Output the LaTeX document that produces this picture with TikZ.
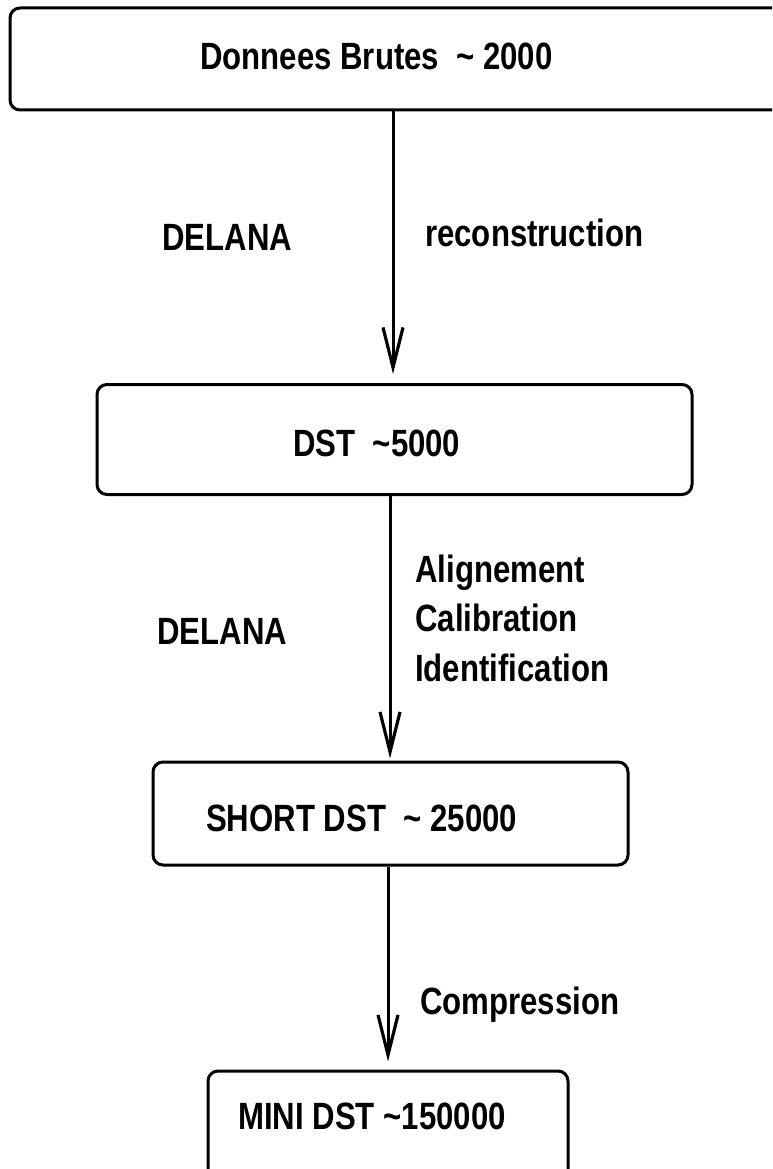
\documentclass[tikz,border=0pt]{standalone}
\usepackage{fontspec}
\setmainfont{Liberation Sans}[FakeStretch=0.82]
\usetikzlibrary{arrows.meta}
\begin{document}
\begin{tikzpicture}[x=1pt,y=-1pt,
  box/.style={draw, line width=3pt, rounded corners=10pt, inner sep=0pt},
  lbl/.style={anchor=base west, inner sep=0pt, font=\fontsize{38}{42}\selectfont\bfseries},
  flow/.style={line width=3pt, -{Straight Barb[length=40pt,width=20pt,line width=3.2pt]}}]
\useasboundingbox (0,0) rectangle (772,1169);
\fill[white] (0,0) rectangle (772,1169);
\clip (0,0) rectangle (772,1169);
% boxes
\node[box, minimum width=780pt, minimum height=102pt] (top) at (400,59) {};
\node[box, minimum width=595pt, minimum height=110pt] (dst) at (394.5,439.5) {};
\node[box, minimum width=475pt, minimum height=103pt] (short) at (390.5,813.5) {};
\node[box, minimum width=360pt, minimum height=120pt] (mini) at (388,1131) {};
% arrow x positions
\coordinate (a1) at (393,0);
\coordinate (a2) at (390,0);
\coordinate (a3) at (388,0);
\draw[flow] (top.south -| a1) -- ([yshift=9pt]dst.north -| a1);
\draw[flow] (dst.south -| a2) -- ([yshift=2pt]short.north -| a2);
\draw[flow] (short.south -| a3) -- ([yshift=8pt]mini.north -| a3);
% texts
\node[lbl] (t1) at (200,70) {Donnees Brutes\ \ \textasciitilde\ 2000};
\node[lbl] (t2) at (293,456) {DST\ \ \textasciitilde5000};
\node[lbl] (t3) at (206,831) {SHORT DST\ \ \textasciitilde\ 25000};
\node[lbl] (t4) at (238,1129) {MINI DST \textasciitilde150000};
\node[lbl] (d1) at (162,250) {DELANA};
\node[lbl] (r1) at (425,246) {reconstruction};
\node[lbl] (d2) at (157,644) {DELANA};
\node[lbl] (al) at (415,582) {Alignement};
\node[lbl] (ca) at (415,631) {Calibration};
\node[lbl] (id) at (415,681) {Identification};
\node[lbl] (co) at (420,1014) {Compression};
\end{tikzpicture}
\end{document}
